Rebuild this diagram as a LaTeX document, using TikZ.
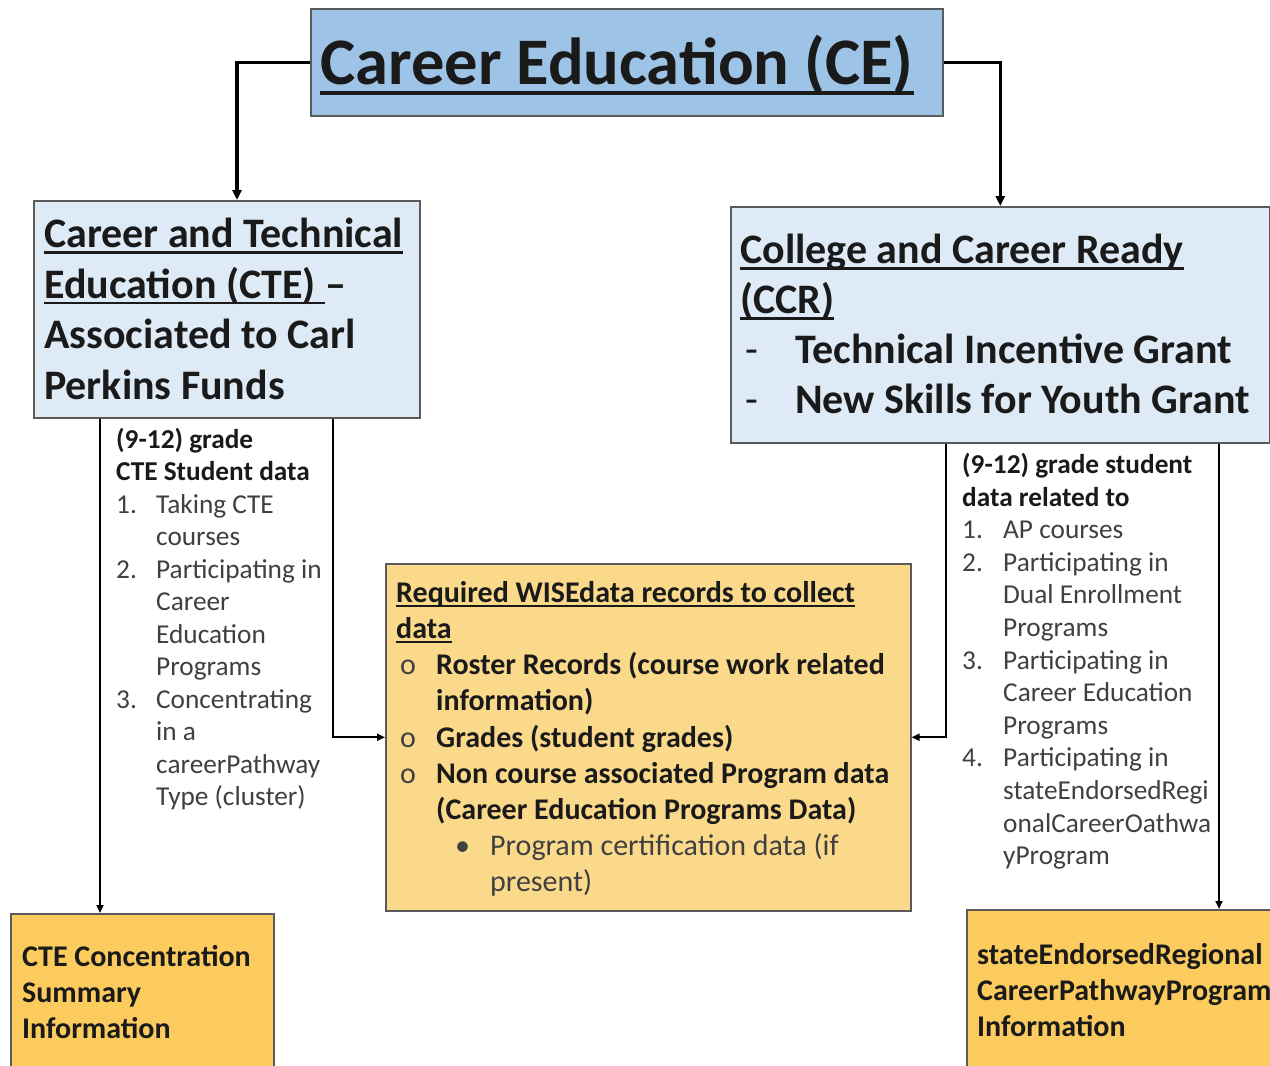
\documentclass[tikz,border=0pt]{standalone}
\usepackage{fontspec}
\setmainfont{Carlito}
\usetikzlibrary{arrows.meta,calc}
\definecolor{cefill}{HTML}{9DC3E6}
\definecolor{lightblue}{HTML}{DEEBF7}
\definecolor{wisefill}{HTML}{FBD98A}
\definecolor{gold}{HTML}{FBCB5E}
\definecolor{boxline}{HTML}{5A5A5A}
\definecolor{txt}{HTML}{1A1A1A}
\definecolor{graytxt}{HTML}{404040}
\tikzset{
  box/.style={draw=boxline, line width=1.5pt, fill=#1, anchor=north west, inner sep=0pt},
  lbl/.style={anchor=north west, inner sep=0pt, align=left, text=txt},
  bigconn/.style={line width=3.2pt, -{Triangle[length=10pt,width=9pt]}},
  conn/.style={line width=2pt, -{Triangle[length=8pt,width=7pt]}}
}
\newcommand{\itm}[2]{\makebox[#1][l]{#2}}
% underline: #1 depth below baseline, #2 thickness, #3 text
\newcommand{\myul}[3]{\setbox0=\hbox{#3}\rlap{\rule[-#1]{\wd0}{#2}}\box0}
\begin{document}
\begin{tikzpicture}[x=1pt,y=-1pt]
\useasboundingbox (0,0) rectangle (1270,1066);
\clip (0,0) rectangle (1270,1066);
\fill[white] (0,0) rectangle (1270,1066);

% boxes
\node[box=cefill, minimum width=632pt, minimum height=107pt] (ce) at (310,8) {};
\node[box=lightblue, minimum width=386pt, minimum height=217pt] (cte) at (33,200) {};
\node[box=lightblue, minimum width=539pt, minimum height=236pt] (ccr) at (730,206) {};
\node[box=wisefill, minimum width=525pt, minimum height=347pt] (wise) at (385,563) {};
\node[box=gold, minimum width=263pt, minimum height=180pt] (cteconc) at (10,913) {};
\node[box=gold, minimum width=340pt, minimum height=180pt] (serp) at (966,909) {};

% texts
\node[lbl, font=\fontsize{66.5}{70}\selectfont\bfseries] (cetext) at (320,35)
  {\myul{10pt}{3.5pt}{Career Education (CE)}};

\node[lbl, font=\fontsize{42}{50.5}\selectfont\bfseries] (ctetext) at (44,218)
  {\myul{6pt}{2.5pt}{Career and Technical}\\
   \myul{6pt}{2.5pt}{Education (CTE)~}–\\
   Associated to Carl\\
   Perkins Funds};

\node[lbl, font=\fontsize{42}{50}\selectfont\bfseries] (ccrtext) at (740,234)
  {\myul{6pt}{2.5pt}{College and Career Ready}\\
   \myul{6pt}{2.5pt}{(CCR)}\\
   \itm{55pt}{\hspace*{5pt}\mdseries -}Technical Incentive Grant\\
   \itm{55pt}{\hspace*{5pt}\mdseries -}New Skills for Youth Grant};

\node[lbl, font=\fontsize{27.3}{32.5}\selectfont, text=graytxt] (ctelist) at (116,428)
  {\textcolor{txt}{\bfseries (9-12) grade}\\
   \textcolor{txt}{\bfseries CTE Student data}\\
   \itm{40pt}{1.}Taking CTE\\
   \hspace*{40pt}courses\\
   \itm{40pt}{2.}Participating in\\
   \hspace*{40pt}Career\\
   \hspace*{40pt}Education\\
   \hspace*{40pt}Programs\\
   \itm{40pt}{3.}Concentrating\\
   \hspace*{40pt}in a\\
   \hspace*{40pt}careerPathway\\
   \hspace*{40pt}Type (cluster)};

\node[lbl, font=\fontsize{27.3}{32.6}\selectfont, text=graytxt] (ccrlist) at (962,453)
  {\textcolor{txt}{\bfseries (9-12) grade student}\\
   \textcolor{txt}{\bfseries data related to}\\
   \itm{41pt}{1.}AP courses\\
   \itm{41pt}{2.}Participating in\\
   \hspace*{41pt}Dual Enrollment\\
   \hspace*{41pt}Programs\\
   \itm{41pt}{3.}Participating in\\
   \hspace*{41pt}Career Education\\
   \hspace*{41pt}Programs\\
   \itm{41pt}{4.}Participating in\\
   \hspace*{41pt}stateEndorsedRegi\\
   \hspace*{41pt}onalCareerOathwa\\
   \hspace*{41pt}yProgram};

\node[lbl, font=\fontsize{30}{36.2}\selectfont\bfseries] (wisetext) at (396,581)
  {\myul{5pt}{2.2pt}{Required WISEdata records to collect}\\
   \myul{5pt}{2.2pt}{data}\\
   \itm{40pt}{\hspace*{4pt}\mdseries\color{graytxt}o}Roster Records (course work related\\
   \hspace*{40pt}information)\\
   \itm{40pt}{\hspace*{4pt}\mdseries\color{graytxt}o}Grades (student grades)\\
   \itm{40pt}{\hspace*{4pt}\mdseries\color{graytxt}o}Non course associated Program data\\
   \hspace*{40pt}(Career Education Programs Data)\\
   {\mdseries\color{graytxt}\hspace*{59pt}\itm{35pt}{•}Program certification data (if}\\
   {\mdseries\color{graytxt}\hspace*{94pt}present)}};

\node[lbl, font=\fontsize{30}{36}\selectfont\bfseries] (concText) at (22,945)
  {CTE Concentration\\ Summary\\ Information};

\node[lbl, font=\fontsize{30}{36}\selectfont\bfseries] (serpText) at (977,943)
  {stateEndorsedRegional\\ CareerPathwayProgram\\ Information};

% connectors
\draw[bigconn] (ce.west) -| ($(cte.north west)+(204,0)$);
\draw[bigconn] (ce.east) -| (ccr.north);
\draw[conn] ($(cte.south west)+(67,0)$) -- ($(cteconc.north west)+(90,0)$);
\draw[conn] ($(cte.south west)+(300,0)$) |- (wise.west);
\draw[conn] ($(ccr.south west)+(216,0)$) |- (wise.east);
\draw[conn] ($(ccr.south west)+(489,0)$) -- ($(serp.north west)+(253,0)$);
\end{tikzpicture}
\end{document}
